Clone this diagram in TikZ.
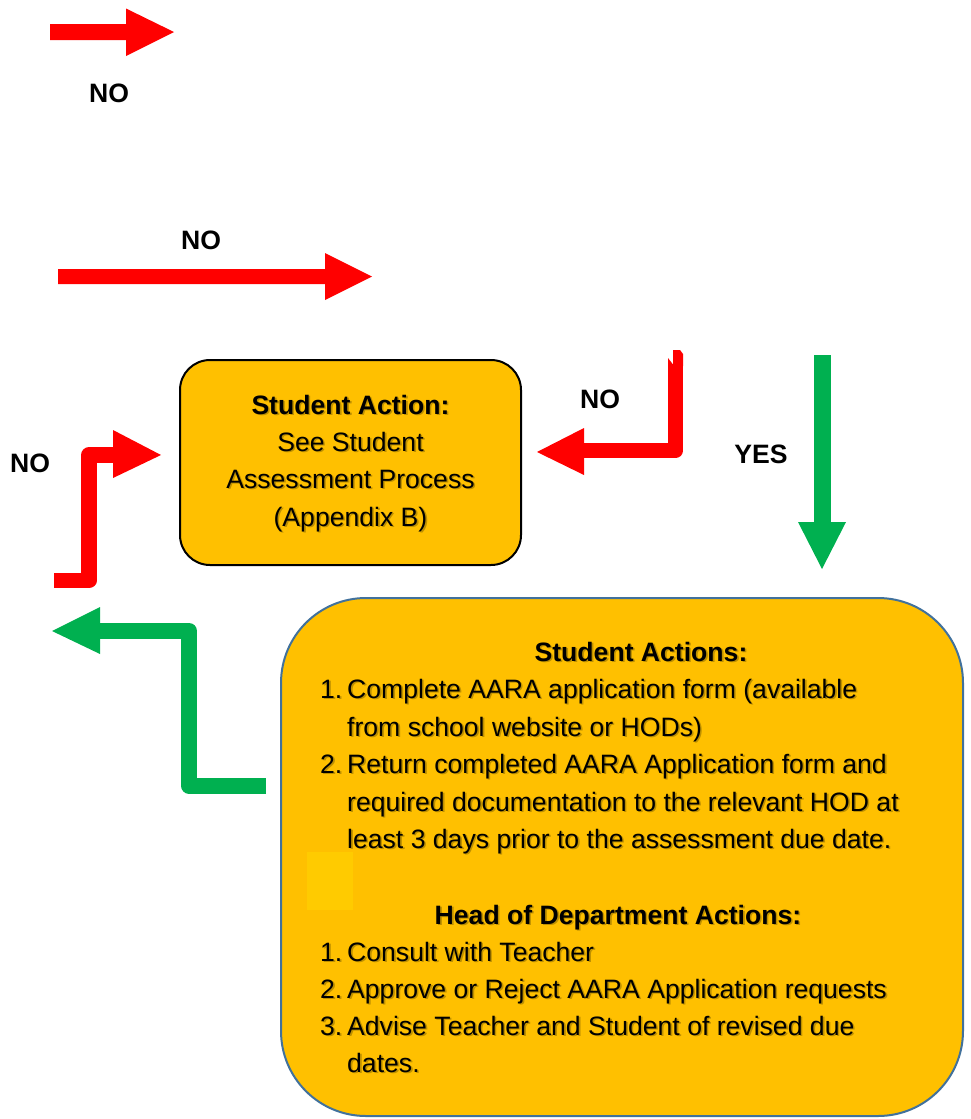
\documentclass[tikz,border=0pt]{standalone}
\usepackage{fontspec}
\setmainfont{Liberation Sans}
\definecolor{boxfill}{HTML}{FFC000}
\definecolor{arrred}{HTML}{FF0000}
\definecolor{arrgreen}{HTML}{00B050}
\definecolor{boxblue}{HTML}{41719C}
\definecolor{patch}{HTML}{FFCB00}
\definecolor{shadowc}{HTML}{BE9000}
\newcommand\withshadow[1]{\makebox[0pt][l]{\hspace{1.6pt}\raisebox{-1.6pt}{\color{shadowc}#1}}#1}
\newcommand\shtext[5]{%
  \node[txt,anchor=#4] (#1) at (#2,#3) {\withshadow{#5}};}
\newcommand\numitem[2]{\makebox[27pt][l]{#1}#2}
\begin{document}
\begin{tikzpicture}[x=1pt,y=-1pt,
  lbl/.style={font=\fontsize{26.6}{30}\selectfont\bfseries, inner sep=0pt, anchor=base},
  txt/.style={font=\fontsize{26.6}{30}\selectfont, inner sep=0pt},
  redshaft/.style={draw=arrred, line width=15.5pt, line join=round},
  greenshaft/.style={draw=arrgreen, line width=16pt, line join=round},
  actbox/.style={fill=boxfill, inner sep=0pt}
]
\useasboundingbox (0,0) rectangle (971,1119);

% top straight arrows
\fill[arrred] (50,24) -- (126,24) -- (126,8.5) -- (174,32) -- (126,56) -- (126,40) -- (50,40) -- cycle;
\fill[arrred] (58,269) -- (325,269) -- (325,253) -- (372,276.5) -- (325,300) -- (325,284) -- (58,284) -- cycle;

% boxes
\node[actbox, draw=black, line width=2pt, rounded corners=30pt,
      minimum width=341pt, minimum height=205pt] (sa) at (350.5,462.5) {};
\node[actbox, draw=boxblue, line width=2pt, rounded corners=85pt,
      minimum width=682pt, minimum height=518pt] (sas) at (622,857) {};
\fill[patch] (307,852) rectangle (353,910);

% left bent red arrow
\coordinate (lr0) at (54,580.5);
\coordinate (lr1) at (89,580.5);
\coordinate (lr2) at (89,455);
\coordinate (lr3) at (114,455);
\draw[redshaft] (lr0) -- (lr1) -- (lr2) -- (lr3);
\fill[arrred] (113,430) -- (161,455) -- (113,478) -- cycle;

% right bent red arrow
\fill[arrred] (668,358) -- (673,364.5) -- (673,350) -- (680,350) -- (683,354) -- (683,366) -- (668,366) -- cycle;
\coordinate (rr0) at (675.5,364);
\coordinate (rr1) at (675.5,450.5);
\coordinate (rr2) at (583,450.5);
\draw[redshaft] (rr0) -- (rr1) -- (rr2);
\fill[arrred] (584,428) -- (537,452) -- (584,475) -- cycle;

% green down arrow
\fill[arrgreen] (814,355) rectangle (831,523);
\fill[arrgreen] (798,522) -- (846,522) -- (822,569) -- cycle;

% green bent arrow
\coordinate (g0) at (266,785.5);
\coordinate (g1) at (189,785.5);
\coordinate (g2) at (189,631);
\coordinate (g3) at (99,631);
\draw[greenshaft] (g0) -- (g1) -- (g2) -- (g3);
\fill[arrgreen] (100,607) -- (52,631) -- (100,654) -- cycle;

% labels
\node[lbl] (no1) at (109,102) {NO};
\node[lbl] (no2) at (201,249) {NO};
\node[lbl] (no3) at (30,472) {NO};
\node[lbl] (no4) at (600,408) {NO};
\node[lbl] (yes) at (761,463) {YES};

% box 1 text
\shtext{a1}{350.5}{414}{base}{\bfseries Student Action:}
\shtext{a2}{350.5}{451}{base}{See Student}
\shtext{a3}{350.5}{488}{base}{Assessment Process}
\shtext{a4}{350.5}{526}{base}{(Appendix B)}

% box 2 text
\shtext{b0}{641}{661}{base}{\bfseries Student Actions:}
\shtext{b1}{320}{698}{base west}{\numitem{1.}{Complete AARA application form (available}}
\shtext{b1b}{347}{736}{base west}{from school website or HODs)}
\shtext{b2}{320}{773}{base west}{\numitem{2.}{Return completed AARA Application form and}}
\shtext{b2b}{347}{811}{base west}{required documentation to the relevant HOD at}
\shtext{b2c}{347}{848}{base west}{least 3 days prior to the assessment due date.}

\shtext{c0}{618}{924}{base}{\bfseries Head of Department Actions:}
\shtext{c1}{320}{961}{base west}{\numitem{1.}{Consult with Teacher}}
\shtext{c2}{320}{998}{base west}{\numitem{2.}{Approve or Reject AARA Application requests}}
\shtext{c3}{320}{1035}{base west}{\numitem{3.}{Advise Teacher and Student of revised due}}
\shtext{c3b}{347}{1072}{base west}{dates.}
\end{tikzpicture}
\end{document}
